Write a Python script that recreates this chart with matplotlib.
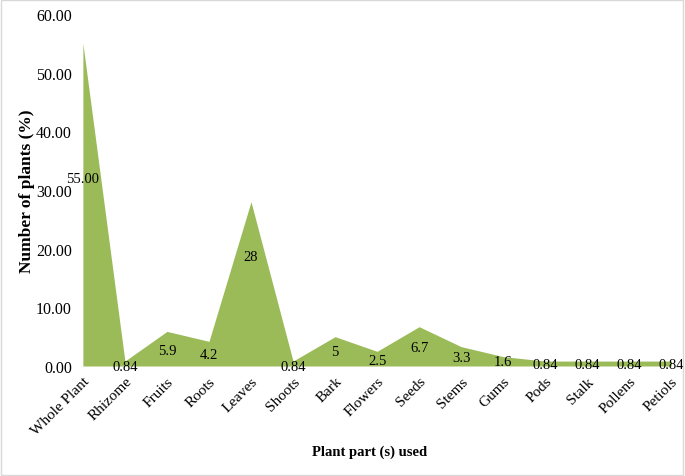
import matplotlib
matplotlib.use('Agg')
import matplotlib.pyplot as plt
import numpy as np
from matplotlib.patches import Rectangle

parts = ['Whole Plant', 'Rhizome', 'Fruits', 'Roots', 'Leaves', 'Shoots',
         'Bark', 'Flowers', 'Seeds', 'Stems', 'Gums', 'Pods', 'Stalk',
         'Pollens', 'Petiols']
values = [55.0, 0.84, 5.9, 4.2, 28, 0.84, 5, 2.5, 6.7, 3.3, 1.6, 0.84,
          0.84, 0.84, 0.84]
labels = ['55.00', '0.84', '5.9', '4.2', '28', '0.84', '5', '2.5', '6.7',
          '3.3', '1.6', '0.84', '0.84', '0.84', '0.84']
# where Excel put the data labels (in data units)
label_y = [31.9, 0.0, 2.7, 2.0, 18.7, 0.0, 2.4, 1.0, 3.1, 1.5, 0.7, 0.3,
           0.3, 0.3, 0.3]
yticks = [0, 10, 20, 30, 40, 50, 60]

plt.rcParams['font.family'] = ['Liberation Serif', 'DejaVu Serif']

fig = plt.figure(figsize=(6.85, 4.77), dpi=100)
ax = fig.add_axes([0.121, 0.2306, 0.859, 0.738])

x = np.arange(len(parts))
ax.fill_between(x, values, 0, color='#9BBB59', linewidth=0)

for xi, ly, lab in zip(x, label_y, labels):
    ax.text(xi, ly, lab, ha='center', va='center', fontsize=10.5,
            color='black')

ax.set_xlim(0, len(parts) - 1)
ax.set_ylim(0, 60)
ax.set_yticks(yticks)
ax.set_yticklabels(['{0:.2f}'.format(v) for v in yticks], fontsize=11.5)
ax.set_xticks(x)
ax.set_xticklabels(parts, rotation=45, ha='right', rotation_mode='anchor',
                   fontsize=11)
ax.tick_params(length=0, pad=6)
ax.tick_params(axis='y', pad=8)
for s in ax.spines.values():
    s.set_visible(False)

ax.set_ylabel('Number of plants (%)', fontsize=12.5, fontweight='bold')
ax.yaxis.set_label_coords(-0.081, 0.5)
fig.text(0.54, 0.052, 'Plant part (s) used', ha='center', va='center',
         fontsize=10.5, fontweight='bold')

fig.patches.append(Rectangle((0.002, 0.003), 0.995, 0.994,
                             transform=fig.transFigure, fill=False,
                             edgecolor='#d9d9d9', linewidth=1))

fig.savefig('out.png', dpi=100)
